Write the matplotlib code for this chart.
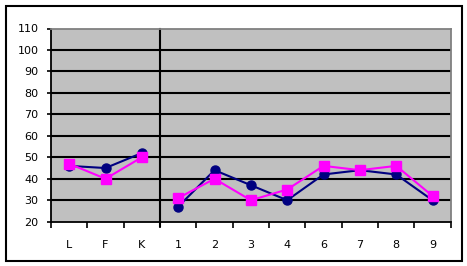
import matplotlib
matplotlib.use("Agg")
import matplotlib.pyplot as plt
import matplotlib.transforms as mtransforms
import numpy as np
from matplotlib.patches import Rectangle

# Datos
categorias = ["L", "F", "K", "1", "2", "3", "4", "6", "7", "8", "9"]
serie_azul = [46, 45, 52, 27, 44, 37, 30, 42, 44, 42, 30]
serie_rosa = [47, 40, 50, 31, 40, 30, 35, 46, 44, 46, 32]
y_ticks = list(range(20, 111, 10))
corte = 3  # separacion entre L F K y 1..9

fig = plt.figure(figsize=(4.67, 2.66), dpi=100)
ax = fig.add_axes([51 / 467, 1 - 221.7 / 266, (450.7 - 51) / 467, (221.7 - 28.5) / 266])
ax.set_facecolor("#C0C0C0")

x = np.arange(len(categorias))
for valores, color, marker, ms in [
    (serie_azul, "#000080", "o", 6.5),
    (serie_rosa, "#FF00FF", "s", 7),
]:
    ax.plot(x[:corte], valores[:corte], color=color, marker=marker, ms=ms, lw=1.5, zorder=3)
    ax.plot(x[corte:], valores[corte:], color=color, marker=marker, ms=ms, lw=1.5, zorder=3)

ax.set_xlim(-0.5, len(categorias) - 0.5)
ax.set_ylim(20, 110)
ax.set_yticks(y_ticks)
ax.set_yticklabels([str(v) for v in y_ticks], fontsize=8)
ax.set_xticks(x)
ax.set_xticklabels(categorias, fontsize=8)
ax.set_xticks(np.arange(-0.5, len(categorias)), minor=True)
ax.tick_params(axis="x", which="major", length=0, pad=13)
ax.tick_params(axis="x", which="minor", length=4, width=1.2, direction="out")
ax.tick_params(axis="y", length=3, width=1.2, pad=6)

for v in y_ticks[1:-1]:
    ax.axhline(v, color="black", lw=1.5, zorder=1)

ax.spines["left"].set_linewidth(1.3)
ax.spines["bottom"].set_linewidth(1.3)
ax.spines["top"].set_color("#808080")
ax.spines["right"].set_color("#808080")
ax.spines["top"].set_linewidth(1.3)
ax.spines["right"].set_linewidth(1.3)

# linea vertical que separa los grupos
trans = mtransforms.blended_transform_factory(ax.transData, ax.transAxes)
ax.plot([corte - 0.5, corte - 0.5], [-0.02, 1.0], color="black", lw=1.5,
        transform=trans, clip_on=False, zorder=2)

# marco exterior
fig.patches.append(Rectangle((5.5 / 467, 1 - 260.5 / 266), 456.5 / 467, 254.8 / 266,
                             transform=fig.transFigure, fill=False, ec="black", lw=1.5))

fig.savefig("out.png", dpi=100)
